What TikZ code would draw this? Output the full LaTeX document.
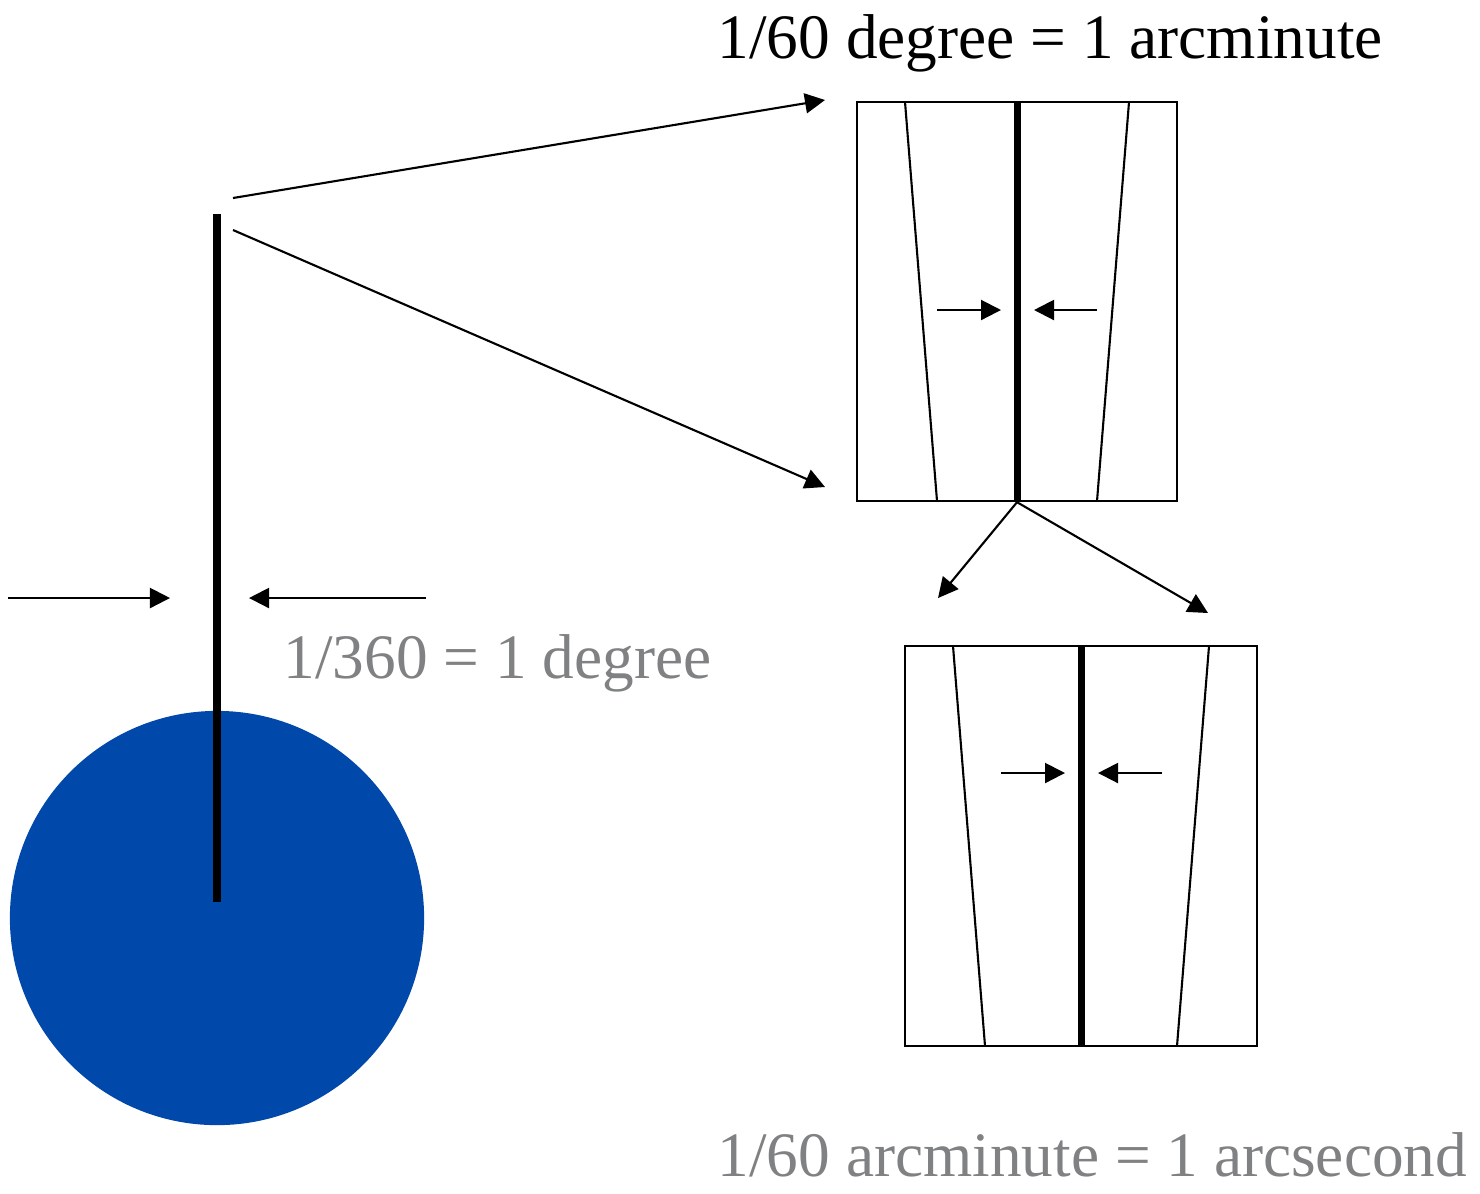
\documentclass[tikz,border=0pt]{standalone}
\usepackage{fontspec}
\setmainfont{Liberation Serif}
\usepackage{tikz}
\usetikzlibrary{arrows.meta, positioning}

\definecolor{earthblue}{RGB}{0,72,170}
\definecolor{labelgray}{RGB}{128,129,131}

\begin{document}
\begin{tikzpicture}[
  x=0.01cm, y=-0.01cm,
  thin line/.style={line width=0.6pt},
  stem/.style={line width=2.3pt},
  zoombox/.style={rectangle, draw=black, line width=0.6pt, inner sep=0pt},
  label/.style={font=\fontsize{18}{22}\selectfont, anchor=base west, inner sep=0pt},
  >/.tip={Triangle[length=2mm,width=2mm]}
]
\useasboundingbox (0,0) rectangle (1480,1193);

% earth and the one degree stem
\fill[earthblue] (217,918) circle [radius=2.07cm];
\coordinate (stemtop) at (217,214);
\coordinate (stembot) at (217,902);
\draw[stem] (stemtop) -- (stembot);

\coordinate (farL) at (8,598);
\coordinate (tipL) at (170,598);
\coordinate (farR) at (426,598);
\coordinate (tipR) at (249,598);
\draw[thin line, ->] (farL) -- (tipL);
\draw[thin line, ->] (farR) -- (tipR);

\node (deg) at (283,678) [label, text=labelgray] {1/360 = 1 degree};

% first zoom: arcminute
\node (box1) at (1017,301.5) [zoombox, minimum width=3.2cm, minimum height=3.99cm] {};
\draw[stem, line width=2pt] (box1.north) -- (box1.south);
\coordinate (b1tl) at (905,102);
\coordinate (b1bl) at (937,501);
\coordinate (b1tr) at (1129,102);
\coordinate (b1br) at (1097,501);
\draw[thin line] (b1tl) -- (b1bl);
\draw[thin line] (b1tr) -- (b1br);

\coordinate (a1s) at (937,310);
\coordinate (a1e) at (1001,310);
\coordinate (a2s) at (1097,310);
\coordinate (a2e) at (1034,310);
\draw[thin line, ->] (a1s) -- (a1e);
\draw[thin line, ->] (a2s) -- (a2e);

\coordinate (up1s) at (233,198);
\coordinate (up1e) at (825,100);
\coordinate (up2s) at (233,230);
\coordinate (up2e) at (825,487);
\draw[thin line, ->] (up1s) -- (up1e);
\draw[thin line, ->] (up2s) -- (up2e);

\node (amin) at (717,58) [label] {1/60 degree = 1 arcminute};

% second zoom: arcsecond
\node (box2) at (1081,846) [zoombox, minimum width=3.52cm, minimum height=4.0cm] {};
\draw[stem, line width=2pt] (box2.north) -- (box2.south);
\coordinate (b2tl) at (953,646);
\coordinate (b2bl) at (985,1046);
\coordinate (b2tr) at (1209,646);
\coordinate (b2br) at (1177,1046);
\draw[thin line] (b2tl) -- (b2bl);
\draw[thin line] (b2tr) -- (b2br);

\coordinate (a3s) at (1001,773);
\coordinate (a3e) at (1065,773);
\coordinate (a4s) at (1162,773);
\coordinate (a4e) at (1098,773);
\draw[thin line, ->] (a3s) -- (a3e);
\draw[thin line, ->] (a4s) -- (a4e);

\coordinate (dnL) at (938,598);
\coordinate (dnR) at (1208,613);
\draw[thin line, ->] (box1.south) -- (dnL);
\draw[thin line, ->] (box1.south) -- (dnR);

\node (asec) at (717,1176) [label, text=labelgray] {1/60 arcminute = 1 arcsecond};

\end{tikzpicture}
\end{document}
